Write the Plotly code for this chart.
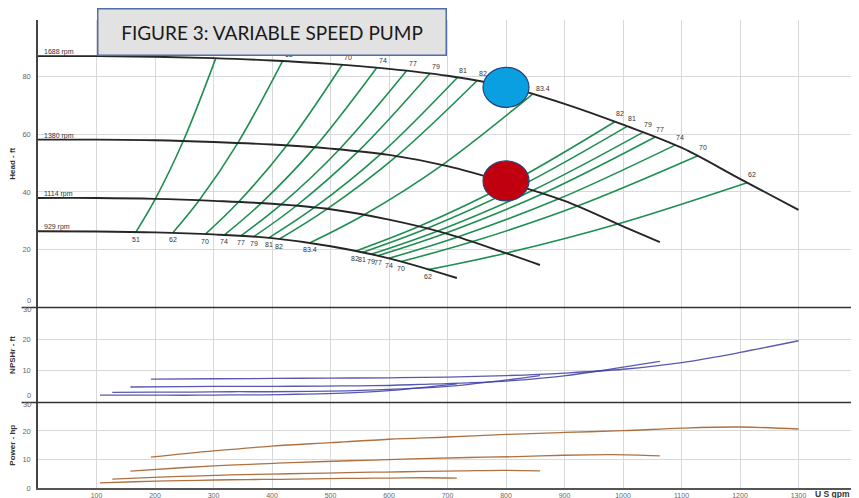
import plotly.graph_objects as go
from plotly.subplots import make_subplots

# ---------------- data ----------------
speeds = ["1688 rpm", "1380 rpm", "1114 rpm", "929 rpm"]

q_1688 = [0, 100, 200, 300, 400, 500, 600, 700, 800, 900, 1000, 1100, 1200, 1300]
h_1688 = [87.0, 87.0, 86.8, 86.3, 85.5, 84.3, 82.6, 80.2, 76.5, 70.5, 63.3, 55.3, 44.5, 33.8]
q_1380 = [0, 100, 200, 300, 400, 500, 600, 700, 800, 900, 1000, 1063]
h_1380 = [58.1, 58.1, 57.9, 57.3, 56.4, 55.0, 52.8, 48.9, 43.3, 36.9, 28.1, 22.6]
q_1114 = [0, 100, 200, 300, 400, 500, 600, 700, 800, 858]
h_1114 = [37.9, 37.9, 37.6, 36.9, 35.9, 34.0, 30.4, 25.5, 18.8, 14.7]
q_929 = [0, 100, 200, 300, 400, 500, 600, 716]
h_929 = [26.4, 26.3, 26.0, 25.3, 24.0, 21.2, 17.0, 10.2]

# iso-efficiency lines (points where they cross 1688 / 1380 / 1114 / 929 rpm)
eff_left = [51, 62, 70, 74, 77, 79, 81, 82, 83.4]
eff_left_q = [
    [304, 248.5, 200.6, 167.3],
    [418, 341.7, 275.9, 230.1],
    [520, 425.1, 343.2, 286.2],
    [579, 473.3, 382.1, 318.7],
    [630, 515.0, 415.8, 346.8],
    [670, 547.7, 442.2, 368.8],
    [717, 586.1, 473.2, 394.6],
    [750, 613.1, 495.0, 412.8],
    [845, 690.8, 557.7, 465.1],
]
eff_left_h = [
    [86.3, 57.7, 37.6, 26.1],
    [85.3, 57.0, 37.2, 25.8],
    [84.0, 56.1, 36.6, 25.4],
    [83.0, 55.5, 36.2, 25.1],
    [81.9, 54.7, 35.7, 24.8],
    [81.0, 54.1, 35.3, 24.5],
    [79.6, 53.2, 34.7, 24.1],
    [78.4, 52.4, 34.2, 23.7],
    [73.8, 49.3, 32.1, 22.4],
]
eff_right = [82, 81, 79, 77, 74, 70, 62]
eff_right_q = [
    [986, 806.1, 650.8, 542.7],
    [1007, 823.2, 664.6, 554.3],
    [1034, 845.3, 682.4, 569.1],
    [1055, 862.5, 696.3, 580.7],
    [1089, 890.3, 718.7, 599.4],
    [1128, 922.1, 744.5, 620.9],
    [1212, 990.8, 799.9, 667.1],
]
eff_right_h = [
    [64.3, 43.0, 28.0, 19.5],
    [62.7, 41.9, 27.3, 19.0],
    [60.6, 40.5, 26.4, 18.4],
    [59.0, 39.4, 25.7, 17.9],
    [56.2, 37.6, 24.5, 17.0],
    [52.5, 35.1, 22.9, 15.9],
    [43.2, 28.9, 18.8, 13.1],
]

# NPSHr curves
nq_1688 = [193, 300, 400, 500, 600, 700, 800, 900, 1000, 1100, 1200, 1300]
npsh_1688 = [7.4, 7.5, 7.6, 7.7, 7.8, 8.0, 8.5, 9.3, 10.5, 12.6, 15.8, 19.5]
nq_1380 = [158, 245, 327, 409, 491, 572, 654, 736, 818, 899, 981, 1063]
npsh_1380 = [4.9, 5.0, 5.1, 5.1, 5.2, 5.3, 5.7, 6.2, 7.0, 8.4, 10.6, 13.0]
nq_1114 = [127, 198, 264, 330, 396, 462, 528, 594, 660, 726, 792, 858]
npsh_1114 = [3.2, 3.3, 3.3, 3.4, 3.4, 3.5, 3.7, 4.1, 4.6, 5.5, 6.9, 8.5]
nq_929 = [106, 165, 220, 275, 330, 385, 440, 495, 550, 605, 660, 716]
npsh_929 = [2.3, 2.3, 2.3, 2.3, 2.4, 2.4, 2.6, 2.8, 3.2, 3.8, 4.8, 5.9]

# Power curves
pw_1688 = [10.8, 13.0, 14.7, 15.9, 17.1, 17.9, 18.8, 19.5, 20.1, 21.0, 21.4, 20.7]
pw_1380 = [5.9, 7.1, 8.0, 8.7, 9.3, 9.8, 10.3, 10.7, 11.0, 11.5, 11.7, 11.3]
pw_1114 = [3.1, 3.7, 4.2, 4.6, 4.9, 5.1, 5.4, 5.6, 5.8, 6.0, 6.2, 6.0]
pw_929 = [1.8, 2.2, 2.5, 2.7, 2.9, 3.0, 3.1, 3.3, 3.4, 3.5, 3.6, 3.5]

# operating points (circles)
op_flow = [800, 800]
op_head = [76.2, 43.8]
op_color = ["#0a9fe0", "#c0000e"]

x_ticks = [100, 200, 300, 400, 500, 600, 700, 800, 900, 1000, 1100, 1200, 1300]

# ---------------- figure ----------------
GREEN = "#1e8f50"
BLACK = "#262626"
BLUE = "rgba(60,60,165,0.85)"
BROWN = "rgba(170,105,55,0.95)"
FONT = "Liberation Sans, Arial, sans-serif"

fig = make_subplots(rows=3, cols=1, shared_xaxes=True, vertical_spacing=0)

for q, h in zip(eff_left_q + eff_right_q, eff_left_h + eff_right_h):
    fig.add_trace(go.Scatter(x=q, y=h, mode="lines", line=dict(color=GREEN, width=1.6, shape="spline"),
                             hoverinfo="skip"), row=1, col=1)

head_q = [q_1688, q_1380, q_1114, q_929]
head_h = [h_1688, h_1380, h_1114, h_929]
for q, h in zip(head_q, head_h):
    fig.add_trace(go.Scatter(x=q, y=h, mode="lines", line=dict(color=BLACK, width=1.9, shape="spline"),
                             hoverinfo="skip"), row=1, col=1)

for q, n in zip([nq_1688, nq_1380, nq_1114, nq_929], [npsh_1688, npsh_1380, npsh_1114, npsh_929]):
    fig.add_trace(go.Scatter(x=q, y=n, mode="lines", line=dict(color=BLUE, width=1.3, shape="spline"),
                             hoverinfo="skip"), row=2, col=1)

for q, p in zip([nq_1688, nq_1380, nq_1114, nq_929], [pw_1688, pw_1380, pw_1114, pw_929]):
    fig.add_trace(go.Scatter(x=q, y=p, mode="lines", line=dict(color=BROWN, width=1.3, shape="spline"),
                             hoverinfo="skip"), row=3, col=1)

annotations = []
small = dict(family=FONT, size=7, color="#333")

# rpm labels
for name, h in zip(speeds, head_h):
    annotations.append(dict(x=0, y=h[0], xref="x", yref="y", text=name, showarrow=False,
                            xanchor="left", yanchor="bottom", xshift=4, yshift=-2, font=small))

# efficiency labels
for e, q, h in zip(eff_left, eff_left_q, eff_left_h):
    t = str(e)
    if e != 83.4:
        annotations.append(dict(x=q[0], y=h[0], xref="x", yref="y", text=t, showarrow=False,
                                xanchor="center", yanchor="middle", xshift=6, yshift=7, font=small))
    else:
        annotations.append(dict(x=q[0], y=h[0], xref="x", yref="y", text=t, showarrow=False,
                                xanchor="left", yanchor="middle", xshift=2, yshift=6, font=small))
    annotations.append(dict(x=q[3], y=h[3], xref="x", yref="y", text=t, showarrow=False,
                            xanchor="center", yanchor="middle", xshift=0, yshift=-7, font=small))
for e, q, h in zip(eff_right, eff_right_q, eff_right_h):
    t = str(e)
    annotations.append(dict(x=q[0], y=h[0], xref="x", yref="y", text=t, showarrow=False,
                            xanchor="center", yanchor="middle", xshift=5, yshift=8, font=small))
    annotations.append(dict(x=q[3], y=h[3], xref="x", yref="y", text=t, showarrow=False,
                            xanchor="center", yanchor="middle", xshift=0, yshift=-7, font=small))

tickfont = dict(family=FONT, size=7.5, color="#666")
# labels at the panel separators (0 just above, 30 just below)
for yr in ["y", "y2"]:
    annotations.append(dict(x=0, y=0, xref="paper", yref=yr, text="0", showarrow=False,
                            xanchor="right", yanchor="middle", xshift=-5, yshift=7, font=tickfont))
for yr in ["y2", "y3"]:
    annotations.append(dict(x=0, y=30, xref="paper", yref=yr, text="30", showarrow=False,
                            xanchor="right", yanchor="middle", xshift=-5, yshift=-2, font=tickfont))

annotations.append(dict(x=1, y=0, xref="paper", yref="paper", text="<b>U S gpm</b>", showarrow=False,
                        xanchor="right", yanchor="top", xshift=-5, yshift=1,
                        font=dict(family=FONT, size=8.5, color="#333")))

# title box
annotations.append(dict(x=0.2863, y=0.9733, xref="paper", yref="paper",
                        text="FIGURE 3: VARIABLE SPEED PUMP", showarrow=False,
                        xanchor="center", yanchor="middle", width=347, height=45,
                        bgcolor="#e2e2e2", bordercolor="#4f6fa6", borderwidth=1.5, borderpad=0,
                        font=dict(family="Lato, sans-serif", size=19, color="#1a1a1a")))

shapes = []
for yv in [0.3857, 0.1827]:
    shapes.append(dict(type="line", xref="paper", yref="paper", x0=-0.02, x1=1, y0=yv, y1=yv,
                       line=dict(color="#333", width=1.5), layer="above"))
for q, h, c in zip(op_flow, op_head, op_color):
    shapes.append(dict(type="circle", xref="x", yref="y", xsizemode="pixel", ysizemode="pixel",
                       xanchor=q, yanchor=h, x0=-23, x1=23, y0=-20, y1=20,
                       fillcolor=c, line=dict(color="#27427a", width=1.2), layer="above"))

# the page adds an 8 px body margin, so the figure is 8 px smaller and margins are offset
fig.update_layout(
    width=851, height=490,
    margin=dict(l=30, r=2, t=12, b=10, autoexpand=False),
    paper_bgcolor="white", plot_bgcolor="white",
    showlegend=False,
    annotations=annotations, shapes=shapes,
)

fig.update_xaxes(range=[0, 1400], tickvals=x_ticks, showgrid=True, gridcolor="#d9d9d9", gridwidth=1.2,
                 zeroline=False, ticks="", tickfont=dict(family=FONT, size=7, color="#666"),
                 ticklabelstandoff=0, automargin=False)
fig.update_xaxes(showline=True, linecolor="#555", linewidth=1.5, row=3, col=1)

ytitle = dict(family=FONT, size=8, color="#333")
fig.update_yaxes(showline=True, linecolor="#444", linewidth=1.5, zeroline=False, showgrid=True,
                 gridcolor="#d9d9d9", gridwidth=1.2, ticks="", tickfont=tickfont, ticklabelstandoff=4,
                 automargin=False)
fig.update_yaxes(domain=[0.3857, 1.0], range=[0, 99.5], tickvals=[20, 40, 60, 80],
                 title=dict(text="<b>Head - ft</b>", font=ytitle, standoff=7), row=1, col=1)
fig.update_yaxes(domain=[0.1827, 0.3857], range=[0, 30], tickvals=[10, 20],
                 title=dict(text="<b>NPSHr - ft</b>", font=ytitle, standoff=7), row=2, col=1)
fig.update_yaxes(domain=[0.0, 0.1827], range=[0, 30], tickvals=[0, 10, 20],
                 title=dict(text="<b>Power - hp</b>", font=ytitle, standoff=7), row=3, col=1)

fig.write_html("out.html")
